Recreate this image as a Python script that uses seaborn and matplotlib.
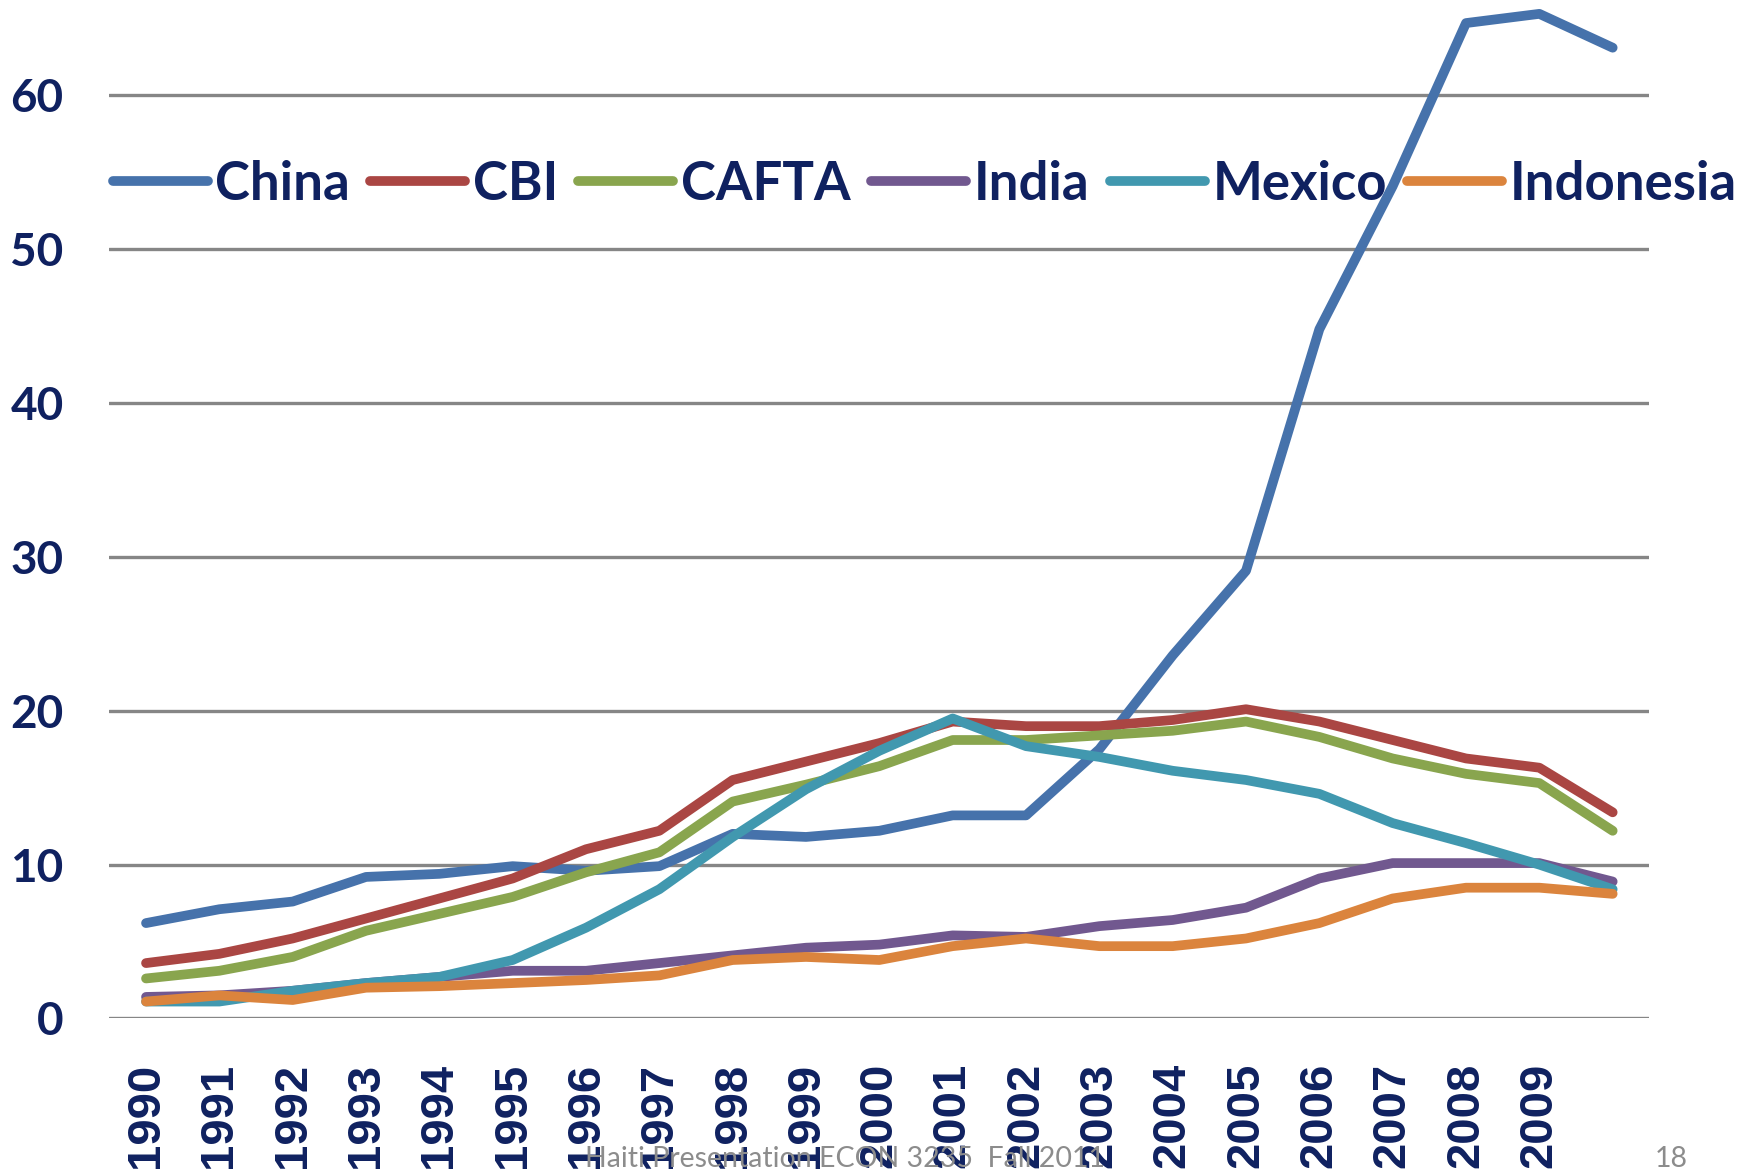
import numpy as np
import pandas as pd
import matplotlib
matplotlib.use("Agg")
import matplotlib.pyplot as plt
import seaborn as sns

years = [str(y) for y in range(1990, 2011)]
tick_labels = [str(y) for y in range(1990, 2010)]

china = [6.2, 7.1, 7.6, 9.2, 9.4, 9.9, 9.6, 9.9, 12.0, 11.8, 12.2, 13.2, 13.2, 17.5, 23.6, 29.1, 44.8, 54.1, 64.7, 65.3, 63.1]
cbi = [3.6, 4.2, 5.2, 6.5, 7.8, 9.1, 11.0, 12.2, 15.5, 16.7, 17.9, 19.3, 19.0, 19.0, 19.4, 20.1, 19.3, 18.1, 16.9, 16.3, 13.4]
cafta = [2.6, 3.1, 4.0, 5.7, 6.8, 7.9, 9.5, 10.8, 14.1, 15.2, 16.4, 18.1, 18.1, 18.4, 18.7, 19.3, 18.3, 16.9, 15.9, 15.3, 12.2]
india = [1.4, 1.5, 1.8, 2.3, 2.7, 3.1, 3.1, 3.6, 4.1, 4.6, 4.8, 5.4, 5.3, 6.0, 6.4, 7.2, 9.1, 10.1, 10.1, 10.1, 8.9]
mexico = [1.1, 1.1, 1.8, 2.3, 2.7, 3.8, 5.9, 8.4, 11.8, 14.9, 17.4, 19.5, 17.7, 17.0, 16.1, 15.5, 14.6, 12.7, 11.4, 10.0, 8.4]
indonesia = [1.1, 1.5, 1.2, 2.0, 2.1, 2.3, 2.5, 2.8, 3.8, 4.0, 3.8, 4.7, 5.2, 4.7, 4.7, 5.2, 6.2, 7.8, 8.5, 8.5, 8.1]

series_names = ["China", "CBI", "CAFTA", "India", "Mexico", "Indonesia"]
series_values = [china, cbi, cafta, india, mexico, indonesia]
colors = ["#4672AB", "#AA4643", "#89A54E", "#71588F", "#4198AF", "#DB843D"]

rows = []
for name, vals in zip(series_names, series_values):
    for i, (yr, v) in enumerate(zip(years, vals)):
        rows.append({"series": name, "pos": i, "year": yr, "value": v})
df = pd.DataFrame(rows)

sns.set_style("white")
plt.rcParams["font.family"] = ["Lato", "DejaVu Sans"]

navy = "#0F2160"
fig = plt.figure(figsize=(17.64, 11.72), dpi=100)
ax = fig.add_axes([0.062, 0.131, 0.873, 0.869])

sns.lineplot(data=df, x="pos", y="value", hue="series", hue_order=series_names,
             palette=colors, linewidth=7, sort=False, ax=ax, legend=False,
             solid_capstyle="round", solid_joinstyle="round")

ax.set_xlim(-0.5, 20.5)
ax.set_ylim(0, 66.2)
ax.set_yticks(range(0, 61, 10))
ax.set_xticks(range(len(tick_labels)))
ax.set_xticklabels(tick_labels, rotation=90, va="top", ha="center",
                   fontfamily="Liberation Sans", fontweight="bold", fontsize=34, color=navy)
ax.set_yticklabels([str(v) for v in range(0, 61, 10)], fontweight="bold", fontsize=33, color=navy)
ax.tick_params(axis="x", length=0, pad=32)
ax.tick_params(axis="y", length=0, pad=33)
ax.set_xlabel("")
ax.set_ylabel("")
for s in ax.spines.values():
    s.set_visible(False)
ax.yaxis.grid(True, color="#868686", linewidth=2.4)
ax.xaxis.grid(False)
ax.set_axisbelow(True)

handles = [plt.Line2D([], [], color=c, linewidth=7, solid_capstyle="round") for c in colors]
leg = ax.legend(handles, series_names, ncol=6, loc="center left",
                bbox_to_anchor=(0.0638, 0.843), bbox_transform=fig.transFigure,
                frameon=False, borderpad=0, borderaxespad=0, handlelength=1.8,
                handletextpad=0.15, columnspacing=0.38,
                prop={"family": "Lato", "weight": "bold", "size": 38})
for t in leg.get_texts():
    t.set_color(navy)
leg.set_zorder(10)

fig.text(0.479, 0.0043, "Haiti Presentation ECON 3235  Fall 2011", ha="center", va="baseline",
         fontsize=20.5, color="#8C8C8C", fontfamily="Lato")
fig.text(0.957, 0.0043, "18", ha="right", va="baseline", fontsize=20.5, color="#8C8C8C",
         fontfamily="Lato")

fig.savefig("out.png", dpi=100)
